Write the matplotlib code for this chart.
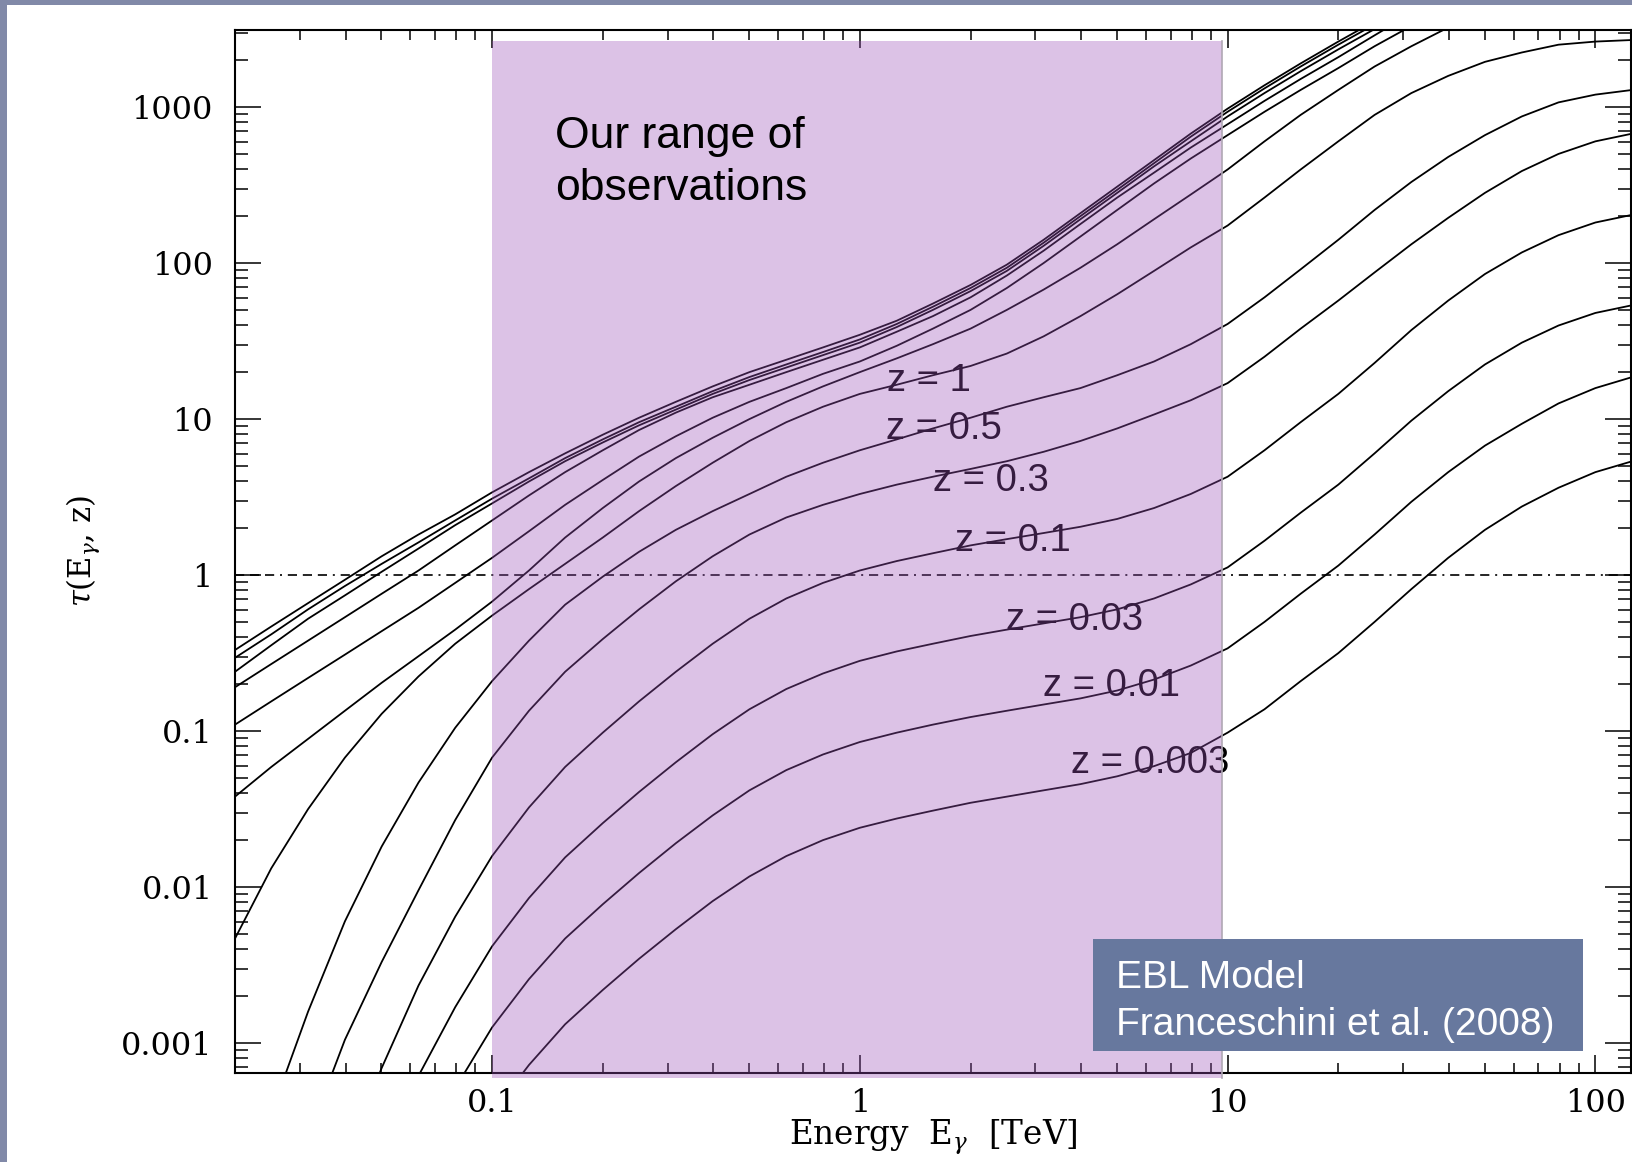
import numpy as np
import matplotlib
matplotlib.use("Agg")
import matplotlib.pyplot as plt
from matplotlib.patches import Rectangle
from matplotlib.ticker import LogLocator, NullFormatter

plt.rcParams['mathtext.fontset'] = 'dejavuserif'

nan = np.nan

# ---------------- data ----------------
energy_tev = [0.02, 0.0251, 0.0316, 0.0398, 0.0501, 0.0631, 0.0794, 0.1, 0.126, 0.158,
              0.2, 0.251, 0.316, 0.398, 0.501, 0.631, 0.794, 1.0, 1.26, 1.58,
              2.0, 2.51, 3.16, 3.98, 5.01, 6.31, 7.94, 10.0, 12.6, 15.8,
              20.0, 25.1, 31.6, 39.8, 50.1, 63.1, 79.4, 100.0, 126.0]

# optical depth curves, from the highest redshift (top) to the lowest (bottom)
tau_hi_a = [0.331, 0.468, 0.661, 0.933, 1.32, 1.82, 2.45, 3.39, 4.57, 6.03, 7.94, 10.2, 12.9,
            16.2, 20.0, 24.0, 28.8, 34.7, 42.7, 55.0, 72.4, 97.7, 141, 209, 309, 457, 676,
            977, 1380, 1905, 2630, 3548, nan, nan, nan, nan, nan, nan, nan]
tau_hi_b = [0.295, 0.417, 0.603, 0.851, 1.18, 1.62, 2.24, 3.09, 4.17, 5.62, 7.41, 9.55, 12.0,
            15.1, 18.6, 22.4, 26.9, 32.4, 40.7, 52.5, 69.2, 93.3, 135, 200, 295, 437, 646,
            933, 1318, 1820, 2512, 3388, nan, nan, nan, nan, nan, nan, nan]
tau_hi_c = [0.240, 0.355, 0.525, 0.741, 1.05, 1.48, 2.09, 2.88, 3.98, 5.37, 7.08, 9.12, 11.5,
            14.5, 17.8, 21.4, 25.7, 30.9, 38.9, 50.1, 66.1, 89.1, 129, 191, 282, 417, 603,
            871, 1230, 1698, 2344, 3162, 4266, nan, nan, nan, nan, nan, nan]
tau_hi_d = [0.191, 0.269, 0.380, 0.537, 0.759, 1.07, 1.55, 2.24, 3.24, 4.57, 6.31, 8.51, 11.0,
            13.8, 16.6, 20.0, 24.0, 28.8, 36.3, 45.7, 60.3, 83.2, 120, 178, 263, 380, 550,
            776, 1096, 1514, 2089, 2884, 3981, nan, nan, nan, nan, nan, nan]
tau_hi_e = [0.110, 0.155, 0.219, 0.309, 0.437, 0.617, 0.891, 1.29, 1.91, 2.82, 4.07, 5.75, 7.76,
            10.2, 12.9, 15.8, 19.5, 23.4, 29.5, 38.0, 50.1, 69.2, 100, 148, 219, 324, 468,
            661, 933, 1288, 1778, 2455, 3311, nan, nan, nan, nan, nan, nan]
tau_hi_f = [0.0380, 0.0589, 0.0891, 0.135, 0.204, 0.302, 0.447, 0.676, 1.07, 1.74, 2.69, 3.98, 5.62,
            7.59, 10.0, 12.9, 16.2, 20.0, 24.5, 30.2, 38.0, 50.1, 67.6, 93.3, 132, 191, 275,
            398, 603, 891, 1288, 1820, 2455, 3236, nan, nan, nan, nan, nan]
tau_z1 = [0.00468, 0.0132, 0.0316, 0.0676, 0.129, 0.224, 0.363, 0.550, 0.813, 1.18, 1.74, 2.57, 3.72,
          5.25, 7.24, 9.55, 12.0, 14.5, 16.6, 19.1, 21.9, 26.3, 33.9, 45.7, 63.1, 89.1, 126,
          174, 263, 398, 603, 891, 1230, 1585, 1950, 2239, 2512, 2630, 2692]
tau_z05 = [nan, 3.55e-4, 1.59e-3, 6.03e-3, 0.0182, 0.0468, 0.105, 0.209, 0.380, 0.646, 0.977, 1.41, 1.95,
           2.57, 3.31, 4.27, 5.25, 6.31, 7.41, 8.71, 10.2, 12.0, 13.8, 15.8, 19.1, 23.4, 30.2,
           40.7, 60.3, 91.2, 141, 219, 331, 479, 661, 871, 1072, 1202, 1288]
tau_z03 = [nan, nan, 2.51e-4, 1.05e-3, 3.31e-3, 9.55e-3, 0.0269, 0.0676, 0.135, 0.240, 0.389, 0.603, 0.912,
           1.32, 1.82, 2.34, 2.82, 3.31, 3.80, 4.27, 4.79, 5.37, 6.17, 7.24, 8.71, 10.7, 13.2,
           17.0, 25.1, 38.0, 57.5, 87.1, 132, 195, 282, 389, 501, 603, 676]
tau_z01 = [nan, nan, nan, 1.78e-4, 6.92e-4, 2.34e-3, 6.46e-3, 0.0158, 0.0324, 0.0589, 0.0977, 0.155, 0.240,
           0.363, 0.525, 0.708, 0.891, 1.07, 1.23, 1.38, 1.55, 1.70, 1.86, 2.04, 2.29, 2.69, 3.31,
           4.27, 6.31, 9.55, 14.5, 22.9, 37.2, 57.5, 85.1, 117, 151, 182, 204]
tau_z003 = [nan, nan, nan, nan, 1.82e-4, 6.17e-4, 1.70e-3, 4.17e-3, 8.51e-3, 0.0155, 0.0257, 0.0407, 0.0631,
            0.0955, 0.138, 0.186, 0.234, 0.282, 0.324, 0.363, 0.407, 0.447, 0.490, 0.537, 0.603, 0.708, 0.871,
            1.12, 1.66, 2.51, 3.80, 6.03, 9.77, 15.1, 22.4, 30.9, 39.8, 47.9, 53.7]
tau_z001 = [nan, nan, nan, nan, nan, 1.86e-4, 5.13e-4, 1.26e-3, 2.57e-3, 4.68e-3, 7.76e-3, 0.0123, 0.0191,
            0.0288, 0.0417, 0.0562, 0.0708, 0.0851, 0.0977, 0.110, 0.123, 0.135, 0.148, 0.162, 0.182, 0.214, 0.263,
            0.339, 0.501, 0.759, 1.15, 1.82, 2.95, 4.57, 6.76, 9.33, 12.6, 15.8, 18.6]
tau_z0003 = [nan, nan, nan, nan, nan, nan, nan, 3.55e-4, 7.24e-4, 1.32e-3, 2.19e-3, 3.47e-3, 5.37e-3,
             8.13e-3, 0.0117, 0.0158, 0.0200, 0.0240, 0.0275, 0.0309, 0.0347, 0.0380, 0.0417, 0.0457, 0.0513, 0.0596, 0.0724,
             0.0977, 0.138, 0.209, 0.316, 0.501, 0.813, 1.29, 1.95, 2.75, 3.63, 4.57, 5.37]

curves = [tau_hi_a, tau_hi_b, tau_hi_c, tau_hi_d, tau_hi_e, tau_hi_f,
          tau_z1, tau_z05, tau_z03, tau_z01, tau_z003, tau_z001, tau_z0003]

z_labels = ["z = 1", "z = 0.5", "z = 0.3", "z = 0.1", "z = 0.03", "z = 0.01", "z = 0.003"]
# label anchor positions (axes fraction)
z_label_x = [0.467, 0.466, 0.500, 0.516, 0.552, 0.579, 0.599]
z_label_y = [0.6635, 0.6175, 0.5675, 0.5105, 0.4345, 0.3715, 0.2975]

x_tick_vals = [0.1, 1, 10, 100]
x_tick_labels = ["0.1", "1", "10", "100"]
y_tick_vals = [0.001, 0.01, 0.1, 1, 10, 100, 1000]
y_tick_labels = ["0.001", "0.01", "0.1", "1", "10", "100", "1000"]

obs_range_tev = [0.1, 9.63]
obs_range_tau = [6.0e-4, 2650]
tau_unity = 1.0

# ---------------- figure ----------------
W, H = 1632, 1162
fig = plt.figure(figsize=(W / 100, H / 100), dpi=100)
fig.patch.set_facecolor('white')
frame_col = '#8189a8'
fig.patches.append(Rectangle((0, 0), 7 / W, 1, transform=fig.transFigure,
                             facecolor=frame_col, edgecolor='none', zorder=0))
fig.patches.append(Rectangle((0, 1 - 5 / H), 1, 5 / H, transform=fig.transFigure,
                             facecolor=frame_col, edgecolor='none', zorder=0))

ax = fig.add_axes([235 / W, (H - 1073) / H, (1631 - 235) / W, (1073 - 30) / H])
ax.set_xscale('log')
ax.set_yscale('log')
ax.set_xlim(0.02, 125)
ax.set_ylim(6.43e-4, 3120)

for tau in curves:
    ax.plot(energy_tev, tau, color='black', lw=1.3, zorder=2,
            solid_capstyle='round', solid_joinstyle='round')

ax.axhline(tau_unity, color='black', lw=1.2, zorder=2,
           linestyle=(0, (5.5, 3.5, 5.5, 3.5, 5.5, 3.5, 1.2, 3.5)))

# shaded observation range (drawn over curves)
ax.add_patch(Rectangle((obs_range_tev[0], obs_range_tau[0]),
                       obs_range_tev[1] - obs_range_tev[0],
                       obs_range_tau[1] - obs_range_tau[0],
                       facecolor='#9b51b8', alpha=0.35, edgecolor='none',
                       zorder=3, clip_on=False))
ax.plot([obs_range_tev[1], obs_range_tev[1]], obs_range_tau, color='#b0a8b4',
        lw=1.2, zorder=3, clip_on=False)

sans = ['Liberation Sans', 'DejaVu Sans']
for lab, xx, yy in zip(z_labels, z_label_x, z_label_y):
    ax.text(xx, yy, lab, transform=ax.transAxes, ha='left', va='center',
            fontsize=27.5, family=sans, color='black', zorder=2)

ax.text(0.229, 0.873, "Our range of\nobservations", transform=ax.transAxes,
        ha='left', va='center', fontsize=32, family=sans, color='black',
        linespacing=1.33, zorder=5)

# EBL model box
ax.add_patch(Rectangle((0.6146, 0.0211), 0.351, 0.1073, transform=ax.transAxes,
                       facecolor='#67789e', edgecolor='none', zorder=6))
ax.text(0.631, 0.0685, "EBL Model\nFranceschini et al. (2008)", transform=ax.transAxes,
        ha='left', va='center', fontsize=28, family=sans, color='white',
        linespacing=1.37, zorder=7)

# axes / ticks
for sp in ax.spines.values():
    sp.set_linewidth(1.5)
    sp.set_color('black')

ax.set_xticks(x_tick_vals)
ax.set_xticklabels(x_tick_labels)
ax.set_yticks(y_tick_vals)
ax.set_yticklabels(y_tick_labels)
ax.xaxis.set_minor_locator(LogLocator(base=10, subs=np.arange(2, 10)))
ax.yaxis.set_minor_locator(LogLocator(base=10, subs=np.arange(2, 10), numticks=20))
ax.xaxis.set_minor_formatter(NullFormatter())
ax.yaxis.set_minor_formatter(NullFormatter())

ax.tick_params(axis='both', which='both', direction='in', top=True, right=True,
               width=1.1, color='black')
ax.tick_params(axis='x', which='major', length=13, pad=11)
ax.tick_params(axis='x', which='minor', length=7)
ax.tick_params(axis='y', which='major', length=19, pad=16)
ax.tick_params(axis='y', which='minor', length=9.5)

serif = 'DejaVu Serif'
for t in ax.get_xticklabels() + ax.get_yticklabels():
    t.set_fontfamily(serif)
    t.set_fontsize(23)

ax.set_xlabel(r'Energy  E$_\gamma$  [TeV]', fontsize=23.5, family=serif)
ax.set_ylabel(r'$\tau$(E$_\gamma$, z)', fontsize=22, family=serif)
ax.xaxis.set_label_coords(0.5, -0.043)
ax.yaxis.set_label_coords(-0.095, 0.5)

fig.savefig('out.png', dpi=100, facecolor=fig.get_facecolor())
